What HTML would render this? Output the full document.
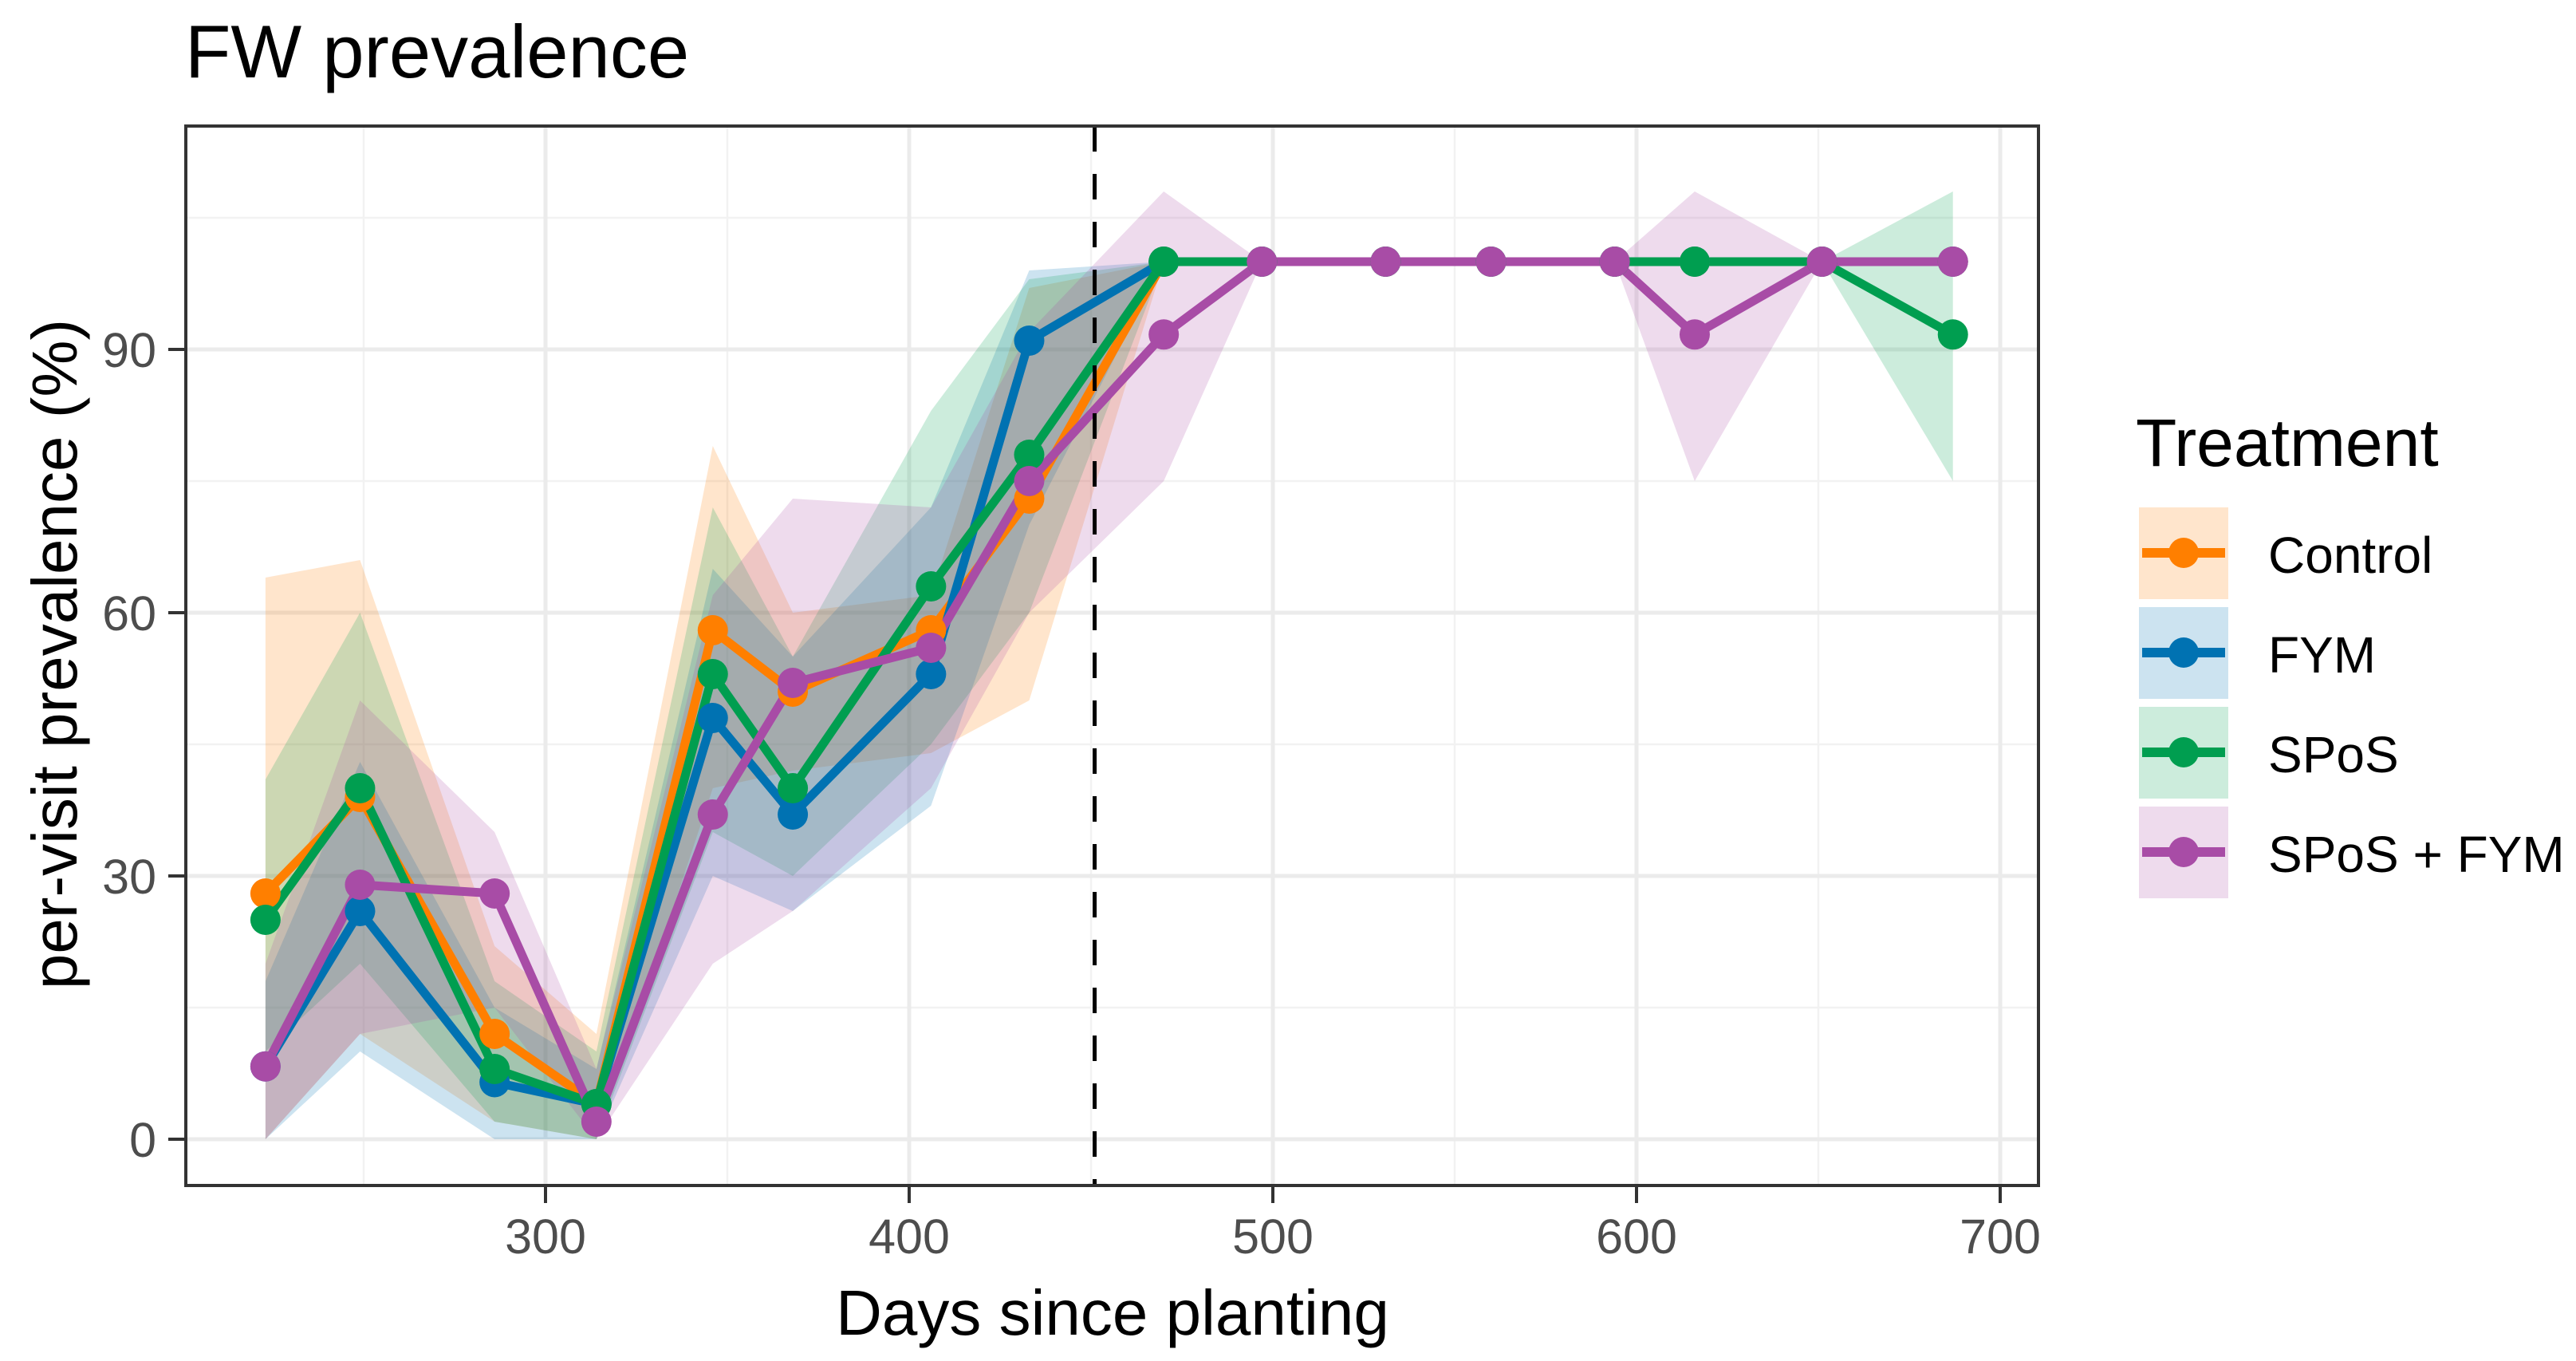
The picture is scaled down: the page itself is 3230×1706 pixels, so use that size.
<!DOCTYPE html>
<html><head><meta charset="utf-8"><style>
html,body{margin:0;padding:0;background:#fff;}
svg{display:block;font-family:"Liberation Sans",Arial,sans-serif;}
</style></head><body>
<svg id="chart" width="3230" height="1706" viewBox="0 0 3230 1706" xmlns="http://www.w3.org/2000/svg">
<rect width="3230" height="1706" fill="#fff"/>
<text x="232" y="97" font-size="94" fill="#000">FW prevalence</text>
<g id="grid"></g>
<g id="ribbons"></g>
<g id="lines"></g>
<g id="points"></g>
<g id="axes"></g>
<text x="1395" y="1673" font-size="80" text-anchor="middle" fill="#000">Days since planting</text>
<text transform="translate(96,820) rotate(-90)" font-size="80" text-anchor="middle" fill="#000">per-visit prevalence (%)</text>
<text x="2678" y="584" font-size="84" fill="#000">Treatment</text>
<g id="legend"></g>
</svg>
<script>
const days = [223,249,286,314,346,368,406,433,470,497,531,560,594,616,651,687];
const seriesNames = ["Control","FYM","SPoS","SPoS + FYM"];
const seriesColors = ["#FF7F00","#0072B2","#009E50","#A84CA6"];
const controlVals = [28,39,12,4,58,51,58,73,100,100,100,100,100,100,100,100];
const fymVals = [8.3,26,6.5,4,48,37,53,91,100,100,100,100,100,100,100,100];
const sposVals = [25,40,8,4,53,40,63,78,100,100,100,100,100,100,100,91.7];
const sposFymVals = [8.3,29,28,2,37,52,56,75,91.7,100,100,100,100,91.7,100,100];
const controlLo = [0,12,2,0,40,42,44,50,100,100,100,100,100,100,100,100];
const controlHi = [64,66,22,12,79,60,62,97,100,100,100,100,100,100,100,100];
const fymLo = [0,10,0,0,30,26,38,70,100,100,100,100,100,100,100,100];
const fymHi = [18,43,15,8,65,55,72,99,100,100,100,100,100,100,100,100];
const sposLo = [10,20,2,0,35,30,45,60,100,100,100,100,100,100,100,75];
const sposHi = [41,60,18,10,72,55,83,98,100,100,100,100,100,100,100,108];
const sposFymLo = [0,12,15,0,20,26,40,60,75,100,100,100,100,75,100,100];
const sposFymHi = [20,50,35,8,62,73,72,92,108,100,100,100,100,108,100,100];
const xTicks = [300,400,500,600,700];
const xMinor = [250,350,450,550,650];
const yTicks = [0,30,60,90];
const yMinor = [15,45,75,105];
const cutoffDay = 451;

const L=233,R=2556,T=158,B=1486;
const X=d=>684+(d-300)*4.56;
const Y=v=>1428-11*v;
const NS="http://www.w3.org/2000/svg";
function mk(tag,attrs,parent){const e=document.createElementNS(NS,tag);for(const k in attrs)e.setAttribute(k,attrs[k]);parent.appendChild(e);return e;}
const grid=document.getElementById('grid'),rib=document.getElementById('ribbons'),lin=document.getElementById('lines'),pts=document.getElementById('points'),axes=document.getElementById('axes'),leg=document.getElementById('legend');
mk('rect',{x:L,y:T,width:R-L,height:B-T,fill:'#fff'},grid);
xMinor.forEach(d=>{const e=mk('line',{x1:X(d),x2:X(d),y1:T,y2:B,stroke:'#F2F2F2','stroke-width':2.5},grid);

});
yMinor.forEach(v=>{const e=mk('line',{x1:L,x2:R,y1:Y(v),y2:Y(v),stroke:'#F2F2F2','stroke-width':2.5},grid);

});
xTicks.forEach(d=>{const e=mk('line',{x1:X(d),x2:X(d),y1:T,y2:B,stroke:'#EBEBEB','stroke-width':5},grid);

});
yTicks.forEach(v=>{const e=mk('line',{x1:L,x2:R,y1:Y(v),y2:Y(v),stroke:'#EBEBEB','stroke-width':5},grid);

});

const vals=[controlVals,fymVals,sposVals,sposFymVals];
const los=[controlLo,fymLo,sposLo,sposFymLo];
const his=[controlHi,fymHi,sposHi,sposFymHi];
const keys=['control','fym','spos','spos-fym'];
vals.forEach((v,i)=>{
  let p=days.map((d,j)=>X(d)+','+Y(his[i][j]));
  p=p.concat(days.map((d,j)=>X(d)+','+Y(los[i][j])).reverse());
  const r=mk('polygon',{points:p.join(' '),fill:seriesColors[i],'fill-opacity':0.2},rib);
  
  
});
vals.forEach((v,i)=>{
  const l=mk('polyline',{points:days.map((d,j)=>X(d)+','+Y(v[j])).join(' '),fill:'none',stroke:seriesColors[i],'stroke-width':11,'stroke-linejoin':'round'},lin);
  
  
});
vals.forEach((v,i)=>{
  days.forEach((d,j)=>{
    const c=mk('circle',{cx:X(d),cy:Y(v[j]),r:19,fill:seriesColors[i]},pts);
    
    
  });
});
const dl=mk('line',{x1:X(cutoffDay),x2:X(cutoffDay),y1:T,y2:B,stroke:'#000','stroke-width':5,'stroke-dasharray':'32 28'},axes);


const br=mk('rect',{x:L,y:T,width:R-L,height:B-T,fill:'none',stroke:'#333','stroke-width':4},axes);


xTicks.forEach(d=>{
  const t=mk('line',{x1:X(d),x2:X(d),y1:B,y2:B+22,stroke:'#333','stroke-width':4},axes);
  
  
  const tx=mk('text',{x:X(d),y:1571,'font-size':61,'text-anchor':'middle',fill:'#4D4D4D'},axes);
  tx.textContent=d;
  
  
});
yTicks.forEach(v=>{
  const t=mk('line',{x1:L-22,x2:L,y1:Y(v),y2:Y(v),stroke:'#333','stroke-width':4},axes);
  
  
  const tx=mk('text',{x:196,y:Y(v)+22,'font-size':61,'text-anchor':'end',fill:'#4D4D4D'},axes);
  tx.textContent=v;
  
  
});
seriesNames.forEach((n,i)=>{
  const y0=636+i*125;
  const g=mk('g',{},leg);
  
  
  mk('rect',{x:2682,y:y0,width:112,height:115,fill:seriesColors[i],'fill-opacity':0.2},g);
  mk('line',{x1:2686,x2:2790,y1:y0+57,y2:y0+57,stroke:seriesColors[i],'stroke-width':12},g);
  mk('circle',{cx:2738,cy:y0+57,r:19,fill:seriesColors[i]},g);
  const t=mk('text',{x:2844,y:y0+82,'font-size':64,fill:'#000'},g);
  t.textContent=n;
});
</script>
</body></html>
